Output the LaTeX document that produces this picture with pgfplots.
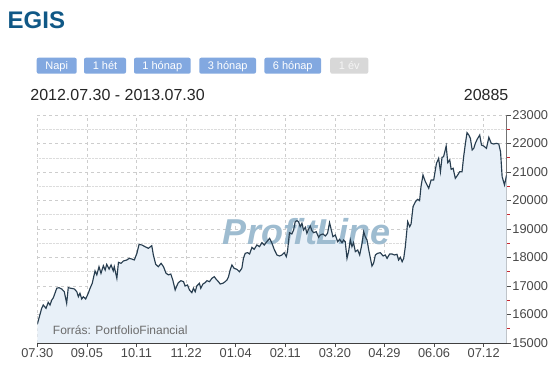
\documentclass[border=0pt]{standalone}
\usepackage{pgfplots}
\pgfplotsset{compat=1.18}
\usepackage{pgfplotstable}
\usepackage{fontspec}
\setmainfont{Liberation Sans}
\definecolor{titleblue}{RGB}{16,88,134}
\definecolor{btn}{RGB}{130,168,224}
\definecolor{btngray}{RGB}{216,216,216}
\definecolor{fillc}{RGB}{232,240,248}
\definecolor{linec}{RGB}{40,62,80}
\definecolor{wm}{RGB}{158,188,208}
\definecolor{gridc}{RGB}{205,205,205}
\definecolor{mtick}{RGB}{200,40,50}

\pgfplotstableread{
d v
0 15656
2.2 16217
3.0 16333
4.4 16217
5.5 16428
6.4 16333
7.3 16508
8.1 16590
8.9 16745
9.8 16920
10.9 16940
12.3 16895
13.6 16800
14.8 16393
15.6 16940
17.0 16920
18.7 16895
19.9 16800
20.7 16625
21.5 16745
22.4 16545
23.2 16625
24.4 16545
25.7 16745
26.6 16920
27.7 17095
29.1 17530
30.0 17390
31.1 17677
32.1 17445
33.3 17712
34.2 17560
35.0 17760
36.2 17596
37.2 17737
38.3 17530
38.8 17677
40.1 17270
40.9 17830
42.2 17796
43.4 17877
45.1 17912
46.3 17970
47.6 17947
48.9 17912
50.2 18146
51.3 18460
52.7 18439
54.3 18380
56.0 18322
57.7 18415
58.5 18088
59.7 17760
61.0 17677
62.4 17796
63.6 17677
64.9 17445
66.1 17390
67.3 17420
68.3 17210
69.5 16860
70.3 17000
71.1 17117
72.4 17187
73.7 17152
74.5 17000
75.7 17035
76.7 16860
77.9 16766
78.7 16920
79.6 16800
80.4 17000
81.7 17095
82.4 16920
83.5 17070
84.6 17117
85.5 17187
86.8 17152
88.0 17270
89.2 17327
90.2 17234
91.3 17152
92.2 17070
93.5 17095
94.7 17152
95.6 17210
96.4 17327
97.2 17560
98.1 17737
99.2 17620
100.6 17585
101.9 17502
103.1 17620
103.9 17970
104.8 18146
106.0 18170
107.0 18123
108.2 18357
109.3 18287
110.7 18439
112.0 18380
113.2 18520
114.4 18439
115.7 18555
117.1 18673
118.3 18497
119.4 18287
120.8 18088
122.1 18053
123.3 18088
124.5 18170
125.5 18029
126.1 18205
127.1 18871
128.3 18825
129.2 18965
130.0 19257
130.9 19292
131.7 19257
132.5 19082
133.4 19200
134.2 18965
135.1 19060
135.9 18848
136.7 18990
137.6 19105
138.4 18942
139.3 18871
140.6 18906
141.8 18708
142.6 18790
144.0 18825
145.2 18755
146.3 18848
147.3 19222
148.0 19024
149.0 18731
150.2 18790
151.4 18555
152.4 18638
153.6 18520
154.4 18614
155.2 18555
156.1 17970
156.9 18205
157.8 18614
158.6 18380
159.4 18520
160.3 18205
161.5 18263
162.5 18088
163.7 18497
164.5 18906
165.3 18731
166.2 18614
167.0 18287
167.9 17970
168.7 17700
169.5 17796
170.4 18088
171.5 18146
172.9 18170
174.3 18053
175.4 18088
176.3 17970
177.6 18123
178.8 18123
180.0 18088
181.3 18111
182.1 17912
183.0 18006
183.9 17853
184.7 17970
185.5 18380
186.7 19257
187.7 19082
188.4 19175
189.4 19784
190.6 19960
191.7 20040
192.7 19995
193.4 20485
194.4 20895
195.6 20660
197.3 20427
198.5 20719
199.8 20719
201.2 21303
202.3 21480
203.2 21010
204.0 21515
204.8 21538
206.1 21912
206.9 21327
207.9 21421
208.6 21094
209.6 21130
210.7 20778
211.9 20895
212.9 21010
214.1 21010
214.9 21538
215.8 22006
216.6 22380
217.5 22298
218.3 22181
219.2 21772
220.0 21830
220.8 22006
221.7 22146
223.0 22298
223.9 21947
225.0 21912
226.4 21830
227.6 22216
228.8 22006
230.1 21982
231.4 22006
232.6 21982
233.5 21712
234.3 20835
235.5 20544
236.5 20885
}\egis

\begin{document}
\begin{tikzpicture}[x=1pt,y=1pt]
\useasboundingbox (0,0) rectangle (558,371);
\fill[white] (0,0) rectangle (558,371);
% title
\node[anchor=base west, inner sep=0, font=\fontsize{24}{24}\selectfont\bfseries, text=titleblue] at (7.5,342.4) {EGIS};
% buttons
\tikzset{btntxt/.style={anchor=base, inner sep=0, font=\fontsize{11}{11}\selectfont}}
\fill[btn, rounded corners=2] (36.7,297.3) rectangle (76.7,313.3);
\node[btntxt, text=white] at (56.7,301.6) {Napi};
\fill[btn, rounded corners=2] (84.0,297.3) rectangle (126.0,313.3);
\node[btntxt, text=white] at (105.0,301.6) {1 hét};
\fill[btn, rounded corners=2] (134.0,297.3) rectangle (190.7,313.3);
\node[btntxt, text=white] at (162.35,301.6) {1 hónap};
\fill[btn, rounded corners=2] (199.3,297.3) rectangle (256.0,313.3);
\node[btntxt, text=white] at (227.65,301.6) {3 hónap};
\fill[btn, rounded corners=2] (264.4,297.3) rectangle (321.1,313.3);
\node[btntxt, text=white] at (292.75,301.6) {6 hónap};
\fill[btngray, rounded corners=2] (330.2,297.3) rectangle (368.3,313.3);
\node[btntxt, text=white!92!gray] at (349.25,301.6) {1 év};
% header texts
\node[anchor=base west, inner sep=0, font=\fontsize{16}{16}\selectfont, text=black!85] at (30.2,270.2) {2012.07.30 - 2013.07.30};
\node[anchor=base east, inner sep=0, font=\fontsize{16}{16}\selectfont, text=black!85] at (508.6,270.2) {20885};
\begin{axis}[
  at={(37.3pt,28pt)}, anchor=south west,
  scale only axis, width=469.4pt, height=228pt,
  xmin=0, xmax=236.6, ymin=15000, ymax=23000,
  axis x line*=bottom, axis y line*=right,
  x axis line style={black!75, line width=0.8pt},
  y axis line style={black!55, line width=0.8pt},
  xtick={0,25,...,225},
  xticklabels={07.30,09.05,10.11,11.22,01.04,02.11,03.20,04.29,06.06,07.12},
  ytick={15000,16000,...,23000},
  minor ytick={15500,16500,...,22500},
  tick align=outside, major tick length=4pt, minor tick length=3pt,
  major tick style={black!70, line width=0.7pt},
  minor tick style={mtick, line width=0.7pt},
  xmajorgrids, ymajorgrids, yminorgrids,
  major grid style={dashed, gridc, line width=0.5pt},
  minor grid style={densely dotted, gridc!70, line width=0.5pt},
  ticklabel style={font=\fontsize{12.8}{12.8}\selectfont, text=black!72},
  /pgf/number format/assume math mode=true,
  /pgf/number format/set thousands separator={},
  scaled y ticks=false,
  yticklabel style={anchor=west, inner sep=0pt, xshift=1.5pt},
  xticklabel style={anchor=north, inner sep=0pt, yshift=-1.5pt},
]
\addplot[draw=none, fill=fillc] table[x=d, y=v] {\egis} \closedcycle;
\node[anchor=base west, inner sep=0, font=\fontsize{36}{36}\selectfont\bfseries\itshape, text=wm] at (axis cs:93.5,18439) {ProfitLine};
\addplot[linec, line width=1.15pt] table[x=d, y=v] {\egis};
\node[anchor=base west, inner sep=0, font=\fontsize{12}{12}\selectfont, text=black!58] at (axis cs:7.8,15281) {Forrás: PortfolioFinancial};
\end{axis}
\end{tikzpicture}
\end{document}
